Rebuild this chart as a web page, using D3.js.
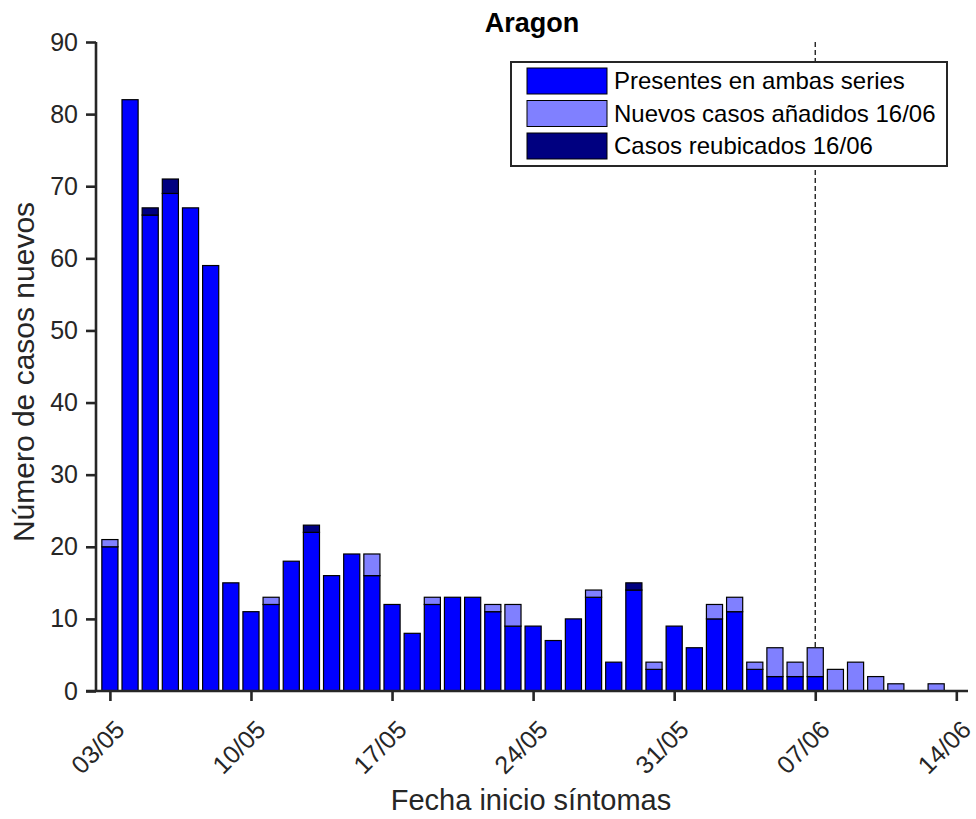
<!DOCTYPE html>
<meta charset="utf-8">
<style>
  body { margin: 0; background: #fff; }
  svg { font-family: 'Liberation Sans', Arial, Helvetica, sans-serif; }
  .axis path, .axis line { stroke: #262626; }
  .axis text { fill: #262626; }
</style>
<body>
<div id="viz"></div>
<script src="https://cdnjs.cloudflare.com/ajax/libs/d3/7.8.5/d3.min.js"></script>
<script>
// dias (fecha inicio sintomas)
var fechas = ['03/05','04/05','05/05','06/05','07/05','08/05','09/05','10/05','11/05','12/05',
              '13/05','14/05','15/05','16/05','17/05','18/05','19/05','20/05','21/05','22/05',
              '23/05','24/05','25/05','26/05','27/05','28/05','29/05','30/05','31/05','01/06',
              '02/06','03/06','04/06','05/06','06/06','07/06','08/06','09/06','10/06','11/06',
              '12/06','13/06'];

var presentes  = [20,82,66,69,67,59,15,11,12,18,22,16,19,16,12,8,12,13,13,11,
                  9,9,7,10,13,4,14,3,9,6,10,11,3,2,2,2,0,0,0,0,0,0];
var nuevos     = [1,0,0,0,0,0,0,0,1,0,0,0,0,3,0,0,1,0,0,1,
                  3,0,0,0,1,0,0,1,0,0,2,2,1,4,2,4,3,4,2,1,0,1];
var reubicados = [0,0,1,2,0,0,0,0,0,0,1,0,0,0,0,0,0,0,0,0,
                  0,0,0,0,0,0,1,0,0,0,0,0,0,0,0,0,0,0,0,0,0,0];

var xTickLabels = ['03/05','10/05','17/05','24/05','31/05','07/06','14/06'];
var yTicks = [0,10,20,30,40,50,60,70,80,90];
var fechaCorte = '07/06';

var series = ['Presentes en ambas series', 'Nuevos casos añadidos 16/06', 'Casos reubicados 16/06'];
var colores = ['#0000ff', '#8080ff', '#000080'];

var W = 976, H = 819;
var x0 = 96, x1 = 968, yTop = 42, yBase = 691;

var svg = d3.select('#viz').append('svg')
    .attr('width', W)
    .attr('height', H);

// escala en dias desde 03/05
var xScale = d3.scaleLinear().domain([-0.69, 42.58]).range([x0, x1]);
var yScale = d3.scaleLinear().domain([0, 90]).range([yBase, yTop]);
var dayW = xScale(1) - xScale(0);
var barW = dayW * 0.8;

// tabla para el stack
var tabla = fechas.map(function(f, i) {
  return { fecha: f, i: i, p: presentes[i], n: nuevos[i], r: reubicados[i] };
});
var stack = d3.stack().keys(['p', 'n', 'r'])(tabla);

// linea discontinua
var iCorte = fechas.indexOf(fechaCorte);
svg.append('line')
    .attr('x1', xScale(iCorte)).attr('x2', xScale(iCorte))
    .attr('y1', yScale(90)).attr('y2', yScale(0))
    .attr('stroke', '#111')
    .attr('stroke-width', 1.3)
    .attr('stroke-dasharray', '5,3');

// barras
svg.append('g').selectAll('g')
    .data(stack)
    .enter().append('g')
    .attr('fill', function(d, k) { return colores[k]; })
    .selectAll('rect')
    .data(function(d) { return d.filter(function(s) { return s[1] > s[0]; }); })
    .enter().append('rect')
    .attr('x', function(d) { return xScale(d.data.i) - barW / 2; })
    .attr('width', barW)
    .attr('y', function(d) { return yScale(d[1]); })
    .attr('height', function(d) { return yScale(d[0]) - yScale(d[1]); })
    .attr('stroke', '#000')
    .attr('stroke-width', 1.2);

// eje Y
var yAxis = svg.append('g')
    .attr('class', 'axis')
    .attr('transform', 'translate(' + x0 + ',0)')
    .call(d3.axisLeft(yScale).tickValues(yTicks).tickSize(10).tickPadding(8));
yAxis.select('.domain').attr('d', 'M0,' + yTop + 'V' + yBase).attr('stroke-width', 2.6);
yAxis.selectAll('.tick line').attr('stroke-width', 2.6);
yAxis.selectAll('text').attr('font-size', 25).attr('font-family', 'Liberation Sans, Arial, sans-serif');

// eje X
var xAxis = svg.append('g')
    .attr('class', 'axis')
    .attr('transform', 'translate(0,' + yBase + ')')
    .call(d3.axisBottom(xScale)
      .tickValues(d3.range(xTickLabels.length).map(function(k) { return k * 7; }))
      .tickFormat(function(d, k) { return xTickLabels[k]; })
      .tickSize(10));
xAxis.select('.domain').attr('d', 'M' + (x0 - 10) + ',0H' + x1).attr('stroke-width', 2.6);
xAxis.selectAll('.tick line').attr('stroke-width', 2.6);
xAxis.selectAll('text')
    .attr('font-size', 25)
    .attr('font-family', 'Liberation Sans, Arial, sans-serif')
    .attr('text-anchor', 'end')
    .attr('x', 9.5)
    .attr('y', 34)
    .attr('dy', '0.35em')
    .attr('transform', 'rotate(-45 9.5 34)');

// titulo y etiquetas
svg.append('text')
    .attr('x', 532).attr('y', 32)
    .attr('text-anchor', 'middle')
    .attr('font-size', 27)
    .attr('font-weight', 'bold')
    .attr('fill', '#000')
    .text('Aragon');

svg.append('text')
    .attr('x', 531).attr('y', 810)
    .attr('text-anchor', 'middle')
    .attr('font-size', 29)
    .attr('fill', '#262626')
    .text('Fecha inicio síntomas');

svg.append('text')
    .attr('transform', 'translate(34,372) rotate(-90)')
    .attr('text-anchor', 'middle')
    .attr('font-size', 30)
    .attr('fill', '#262626')
    .text('Número de casos nuevos');

// leyenda
var leg = svg.append('g').attr('transform', 'translate(511,62)');
leg.append('rect')
    .attr('width', 436).attr('height', 104)
    .attr('fill', '#fff')
    .attr('stroke', '#262626')
    .attr('stroke-width', 2);
var items = leg.selectAll('g.item')
    .data(series)
    .enter().append('g')
    .attr('class', 'item')
    .attr('transform', function(d, k) { return 'translate(0,' + (19 + k * 32.5) + ')'; });
items.append('rect')
    .attr('x', 16).attr('y', -13)
    .attr('width', 80).attr('height', 26)
    .attr('fill', function(d, k) { return colores[k]; })
    .attr('stroke', '#000')
    .attr('stroke-width', 1);
items.append('text')
    .attr('x', 103).attr('y', 0)
    .attr('dy', '0.35em')
    .attr('font-size', 24)
    .attr('fill', '#000')
    .text(function(d) { return d; });
</script>
</body>
